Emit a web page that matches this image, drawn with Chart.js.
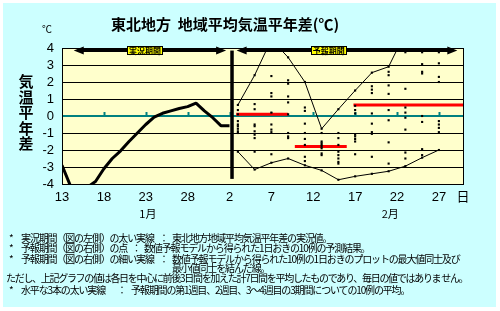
<!DOCTYPE html>
<html>
<head>
<meta charset="utf-8">
<script src="https://cdn.jsdelivr.net/npm/chart.js@4"></script>
<style>
  body { margin:0; background:#fff; width:500px; height:311px; position:relative; overflow:hidden; }
  #bg { position:absolute; left:3px; top:3px; width:493px; height:304px; background:#ccffff; }
  #c { position:absolute; left:0; top:0; }
  .n { position:absolute; font:10px "Noto Sans CJK JP", sans-serif; letter-spacing:-1.15px; line-height:11px; white-space:nowrap; color:#000; }
</style>
</head>
<body>
<div id="bg"></div>
<canvas id="c" width="500" height="311"></canvas>
<div id="notes"></div>
<script>
// 東北地方 地域平均気温平年差 (実況 + 予報)
// x はインデックス: 0 = 1月13日, 20 = 2月2日, 48 = 右端

const xTickIdx = [0, 5, 10, 15, 20, 25, 30, 35, 40, 45];
const xTickLabels = ['13', '18', '23', '28', '2', '7', '12', '17', '22', '27'];
const yTicks = [-4, -3, -2, -1, 0, 1, 2, 3, 4];

// 実況値 (1月13日〜2月2日)
const obsDays = [0,1,2,3,4,5,6,7,8,9,10,11,12,13,14,15,16,17,18,19,20];
const obsValues = [-2.9, -4.1, -4.3, -4.2, -3.85, -3.1, -2.5, -2.05, -1.5, -1.0, -0.5,
                   -0.07, 0.16, 0.3, 0.44, 0.55, 0.76, 0.3, -0.1, -0.58, -0.58];

// 予報 10例 (1日おき)
const fcstDays = [21, 23, 25, 27, 29, 31, 33, 35, 37, 39, 41, 43, 45];
const fcstMembers = [
    [0.65, 0.35, 0.1, -0.3, -0.5, -0.6, -0.75, -0.9, -1.0, -2.1],
    [2.4, 0.7, 0.4, -0.5, -0.6, -0.9, -1.1, -1.3, -2.1, -3.15],
    [4.5, 2.35, 1.35, 1.15, 0.2, -0.5, -0.8, -0.95, -2.25, -2.75],
    [3.45, 2.1, 1.9, 1.15, 0.8, 0.1, -1.0, -1.2, -1.3, -2.5],
    [2.0, 0.5, 0.3, -0.45, -1.0, -1.35, -1.7, -2.4, -2.65, -2.9],
    [-0.75, -1.0, -1.5, -1.6, -1.7, -1.8, -1.9, -2.2, -2.3, -3.2],
    [0.4, -1.0, -1.3, -1.7, -2.1, -2.3, -2.5, -2.7, -2.8, -3.75],
    [1.5, 0.6, 0.35, 0.15, -1.1, -1.2, -1.35, -1.5, -2.25, -3.55],
    [2.55, 1.75, 1.55, 1.35, 0.15, -0.45, -0.95, -1.05, -2.4, -3.4],
    [2.9, 2.6, 2.4, 1.8, 1.3, 0.35, -0.25, -1.55, -2.8, -3.25],
    [4.9, 3.75, 1.6, 0.5, 0.2, -0.1, -0.8, -2.15, -2.5, -2.95],
    [4.8, 3.75, 3.05, 2.6, 2.5, 0.0, -0.35, -1.95, -2.3, -2.45],
    [4.7, 3.75, 3.1, 2.3, 2.0, -0.3, -0.5, -0.7, -0.95, -2.0]
];

// 週平均 (第1週, 第2週, 第3~4週)
const meanStart = [20.8, 27.8, 34.8];
const meanEnd = [27.0, 34.0, 48];
const meanValue = [0.1, -1.8, 0.65];

// 実況/予報の区切り線
const dividerX = 20.3;
const dividerRange = [-3.7, 3.85];

// 期間矢印
const periodNames = ['実況期間', '予報期間'];
const periodFrom = [1.4, 20.85];
const periodTo = [19.6, 47.2];
const periodLabelAt = [9.9, 31.85];
const arrowLevel = 3.88;

const months = ['1月', '2月'];
const monthAt = [10.25, 39.2];

const notes = [
    [232, 9, '*'], [232, 21, '実況期間（図の左側）の太い実線'], [232, 159, '：'], [232, 172, '東北地方地域平均気温平年差の実況値。'],
    [242, 9, '*'], [242, 21, '予報期間（図の右側）の点'], [242, 131.5, '：'], [242, 144, '数値予報モデルから得られた1日おきの10例の予測結果。'],
    [253, 9, '*'], [253, 21, '予報期間（図の右側）の細い実線'], [253, 159, '：'], [253, 172, '数値予報モデルから得られた10例の1日おきのプロットの最大値同士及び'],
    [262, 172, '最小値同士を結んだ線。'],
    [272, 6, 'ただし、上記グラフの値は各日を中心に前後3日間を加えた計7日間を平均したものであり、毎日の値ではありま せん。', -1.3],
    [284, 9, '*'], [284, 21, '水平な3本の太い実線'], [284, 117, '：'], [284, 131, '予報期間の第1週目、2週目、3～4週目の3期間についての10例の平均。']
];

const notesDiv = document.getElementById('notes');
notes.forEach(n => {
    const d = document.createElement('div');
    d.className = 'n';
    d.style.top = n[0] + 'px';
    d.style.left = n[1] + 'px';
    if (n[3] !== undefined) d.style.letterSpacing = n[3] + 'px';
    d.textContent = n[2];
    notesDiv.appendChild(d);
});

const JP = '"Noto Sans CJK JP", sans-serif';

const decor = {
    id: 'decor',
    beforeDraw(chart) {
        const {ctx, chartArea: a} = chart;
        ctx.save();
        ctx.fillStyle = '#ffffcc';
        ctx.fillRect(a.left, a.top, a.right - a.left, a.bottom - a.top);
        ctx.restore();
    },
    beforeDatasetsDraw(chart) {
        const {ctx, chartArea: a, scales: {x, y}} = chart;
        const y0 = Math.round(y.getPixelForValue(0));
        ctx.save();
        // 1°C ごとの横線
        ctx.strokeStyle = '#000';
        ctx.lineWidth = 1;
        yTicks.forEach(v => {
            if (v === 0) return;
            const py = Math.round(y.getPixelForValue(v)) + 0.5;
            ctx.beginPath();
            ctx.moveTo(a.left, py);
            ctx.lineTo(a.right, py);
            ctx.stroke();
        });
        // 0 線と目盛
        ctx.strokeStyle = '#008080';
        ctx.lineWidth = 2;
        ctx.beginPath();
        ctx.moveTo(a.left, y0);
        ctx.lineTo(a.right, y0);
        ctx.stroke();
        xTickIdx.slice(1).forEach(v => {
            const px = Math.round(x.getPixelForValue(v)) + 0.5;
            ctx.beginPath();
            ctx.moveTo(px, y0);
            ctx.lineTo(px, y0 - 4);
            ctx.stroke();
        });
        ctx.restore();
    },
    afterDraw(chart) {
        const {ctx, chartArea: a, scales: {x, y}} = chart;
        ctx.save();
        // 枠
        ctx.strokeStyle = '#000';
        ctx.lineWidth = 1;
        ctx.strokeRect(a.left + 0.5, a.top + 0.5, a.right - a.left - 1, a.bottom - a.top);

        // 縦軸の数字
        ctx.fillStyle = '#000';
        ctx.textAlign = 'right';
        ctx.textBaseline = 'middle';
        ctx.font = '13px "Liberation Sans"';
        yTicks.forEach(v => ctx.fillText(String(v), a.left - 8, y.getPixelForValue(v)));

        // 期間矢印
        const ay = Math.round(y.getPixelForValue(arrowLevel)) + 0.5;
        periodNames.forEach((name, i) => {
            const x1 = x.getPixelForValue(periodFrom[i]);
            const x2 = x.getPixelForValue(periodTo[i]);
            ctx.fillStyle = '#000';
            ctx.strokeStyle = '#000';
            ctx.lineWidth = 3;
            ctx.beginPath();
            ctx.moveTo(x1 + 6, ay);
            ctx.lineTo(x2 - 6, ay);
            ctx.stroke();
            ctx.beginPath();
            ctx.moveTo(x1, ay); ctx.lineTo(x1 + 10, ay - 4); ctx.lineTo(x1 + 10, ay + 4); ctx.closePath();
            ctx.fill();
            ctx.beginPath();
            ctx.moveTo(x2, ay); ctx.lineTo(x2 - 10, ay - 4); ctx.lineTo(x2 - 10, ay + 4); ctx.closePath();
            ctx.fill();
            // ラベル
            ctx.font = 'bold 8px ' + JP;
            const cx = x.getPixelForValue(periodLabelAt[i]);
            const w = ctx.measureText(name).width + 4;
            ctx.fillStyle = '#ffff00';
            ctx.fillRect(Math.round(cx - w / 2), ay - 4.5, Math.round(w), 9);
            ctx.lineWidth = 1;
            ctx.strokeRect(Math.round(cx - w / 2) + 0.5, ay - 4, Math.round(w) - 1, 8);
            ctx.fillStyle = '#000';
            ctx.textAlign = 'center';
            ctx.textBaseline = 'middle';
            ctx.fillText(name, cx, ay + 0.5);
        });

        // タイトル
        ctx.fillStyle = '#000';
        ctx.textAlign = 'center';
        ctx.textBaseline = 'middle';
        ctx.font = 'bold 15px ' + JP;
        ctx.fillText('東北地方  地域平均気温平年差(℃)', 225, 24);

        ctx.font = '10px ' + JP;
        ctx.fillText('℃', 47, 29);

        // 縦軸タイトル
        ctx.font = 'bold 15px ' + JP;
        ['気', '温', '平', '年', '差'].forEach((ch, i) => ctx.fillText(ch, 26, 81.5 + i * 15.5));

        ctx.font = '13px ' + JP;
        ctx.fillText('日', 463, 196);

        ctx.font = '11px ' + JP;
        months.forEach((m, i) => ctx.fillText(m, x.getPixelForValue(monthAt[i]), 214));
        ctx.restore();
    }
};

const datasets = [
    {
        type: 'scatter',
        data: fcstDays.flatMap((d, i) => fcstMembers[i].map(v => ({x: d, y: v}))),
        pointStyle: 'rect',
        pointRadius: 1.5,
        pointBorderWidth: 0,
        backgroundColor: '#000',
        borderColor: '#000'
    }
];
meanValue.forEach((v, i) => {
    datasets.push({
        data: [{x: meanStart[i], y: v}, {x: meanEnd[i], y: v}],
        borderColor: '#ff0000', borderWidth: 3, pointRadius: 0
    });
});
datasets.push({
    data: fcstDays.map((d, i) => ({x: d, y: Math.max(...fcstMembers[i])})),
    borderColor: '#000', borderWidth: 1, pointRadius: 0
});
datasets.push({
    data: fcstDays.map((d, i) => ({x: d, y: Math.min(...fcstMembers[i])})),
    borderColor: '#000', borderWidth: 1, pointRadius: 0
});
datasets.push({
    data: obsDays.map((d, i) => ({x: d, y: obsValues[i]})),
    borderColor: '#000', borderWidth: 3, pointRadius: 0, borderJoinStyle: 'bevel'
});
datasets.push({
    data: dividerRange.map(v => ({x: dividerX, y: v})),
    borderColor: '#000', borderWidth: 3.5, pointRadius: 0
});

new Chart(document.getElementById('c'), {
    type: 'line',
    data: {datasets},
    plugins: [decor],
    options: {
        responsive: false,
        animation: false,
        layout: {padding: {left: 0, top: 48, right: 36, bottom: 0}},
        plugins: {legend: {display: false}, tooltip: {enabled: false}, title: {display: false}},
        scales: {
            x: {
                type: 'linear', min: 0, max: 48,
                afterFit: s => { s.height = 127; },
                afterBuildTicks: s => { s.ticks = xTickIdx.map(v => ({value: v})); },
                grid: {display: false, drawTicks: false, tickLength: 0},
                border: {display: false},
                ticks: {
                    color: '#000', padding: 6, maxRotation: 0, autoSkip: false,
                    font: {family: 'Liberation Sans', size: 13},
                    callback: (v) => xTickLabels[xTickIdx.indexOf(v)]
                }
            },
            y: {
                min: -4, max: 4,
                afterFit: s => { s.width = 62; },
                grid: {display: false},
                border: {display: false},
                ticks: {display: false, stepSize: 1}
            }
        }
    }
});
</script>
</body>
</html>
